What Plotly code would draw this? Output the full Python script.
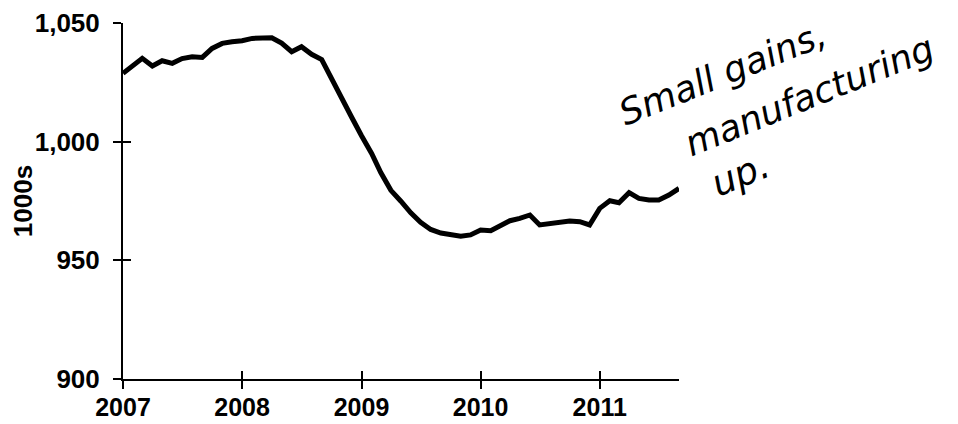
import pandas as pd
import plotly.graph_objects as go

# Monthly values, Jan 2007 .. Sep 2011 (thousands)
months = pd.date_range("2007-01-01", periods=57, freq="MS")
values = [
    # 2007
    1028.8, 1032.3, 1035.1, 1031.9, 1034.1, 1033.0, 1035.0, 1035.8, 1035.5, 1039.3, 1041.4, 1042.1,
    # 2008
    1042.5, 1043.5, 1043.8, 1043.8, 1041.5, 1037.9, 1040.0, 1036.8, 1034.6, 1027.0, 1018.5, 1010.5,
    # 2009
    1002.5, 995.0, 987.0, 979.5, 975.0, 970.0, 966.0, 963.0, 961.5, 961.0, 960.2, 960.7,
    # 2010
    962.8, 962.5, 964.5, 966.7, 967.7, 969.1, 964.9, 965.6, 966.0, 966.6, 966.3, 964.9,
    # 2011
    971.9, 975.1, 974.3, 978.5, 976.1, 975.4, 975.4, 977.5, 980.3,
]
y_ticks = [900, 950, 1000, 1050]
x_ticks = ["2007-01-01", "2008-01-01", "2009-01-01", "2010-01-01", "2011-01-01"]
x_tick_labels = ["2007", "2008", "2009", "2010", "2011"]
y_title = "1000s"
note_lines = ["Small gains,", "manufacturing", "up."]

tick_font = dict(family="Liberation Sans, Arial, sans-serif", size=26, color="black", weight="bold")
xtick_font = dict(tick_font, size=25)

fig = go.Figure()
fig.add_trace(go.Scatter(
    x=months, y=values, mode="lines",
    line=dict(color="black", width=5, shape="linear"),
    hoverinfo="skip", showlegend=False,
))
# helper trace so the overlay axes (inner half of the crossing ticks) are drawn
fig.add_trace(go.Scatter(
    x=months, y=values, mode="lines", xaxis="x2", yaxis="y2",
    line=dict(color="rgba(0,0,0,0)", width=0), hoverinfo="skip", showlegend=False,
))

x_range = [months[0], months[-1]]
y_range = [900, 1050]

fig.update_layout(
    width=950, height=416,
    margin=dict(l=115, r=279, t=15, b=45),
    paper_bgcolor="white", plot_bgcolor="white",
    xaxis=dict(
        type="date", range=x_range, tickvals=x_ticks, ticktext=x_tick_labels,
        showgrid=False, zeroline=False, showline=True, linecolor="black", linewidth=2,
        ticks="outside", ticklen=8, tickwidth=2, tickcolor="black",
        tickfont=xtick_font, ticklabelstandoff=-3, automargin=False,
    ),
    yaxis=dict(
        range=y_range, tickvals=y_ticks, tickformat=",d",
        showgrid=False, zeroline=False, showline=True, linecolor="black", linewidth=2,
        ticks="outside", ticklen=8, tickwidth=2, tickcolor="black",
        tickfont=tick_font, ticklabelstandoff=8, automargin=False,
        title=dict(text=y_title, font=tick_font, standoff=2),
    ),
    xaxis2=dict(
        type="date", range=x_range, overlaying="x", side="bottom", tickvals=x_ticks,
        showticklabels=False, showgrid=False, zeroline=False, showline=False,
        ticks="inside", ticklen=8, tickwidth=2, tickcolor="black", automargin=False,
    ),
    yaxis2=dict(
        range=y_range, overlaying="y", side="left", tickvals=y_ticks,
        showticklabels=False, showgrid=False, zeroline=False, showline=False,
        ticks="inside", ticklen=8, tickwidth=2, tickcolor="black", automargin=False,
    ),
)

note_sizes = [36, 36, 37]
note_pos = [(1.078, 0.857), (1.235, 0.795), (1.110, 0.575)]
for text, size, (px, py) in zip(note_lines, note_sizes, note_pos):
    fig.add_annotation(
        text=text, xref="paper", yref="paper", x=px, y=py,
        xanchor="center", yanchor="middle", showarrow=False,
        textangle=-22,
        font=dict(family="DejaVu Sans, sans-serif", size=size, color="black", style="italic"),
    )

fig.write_html("out.html")
